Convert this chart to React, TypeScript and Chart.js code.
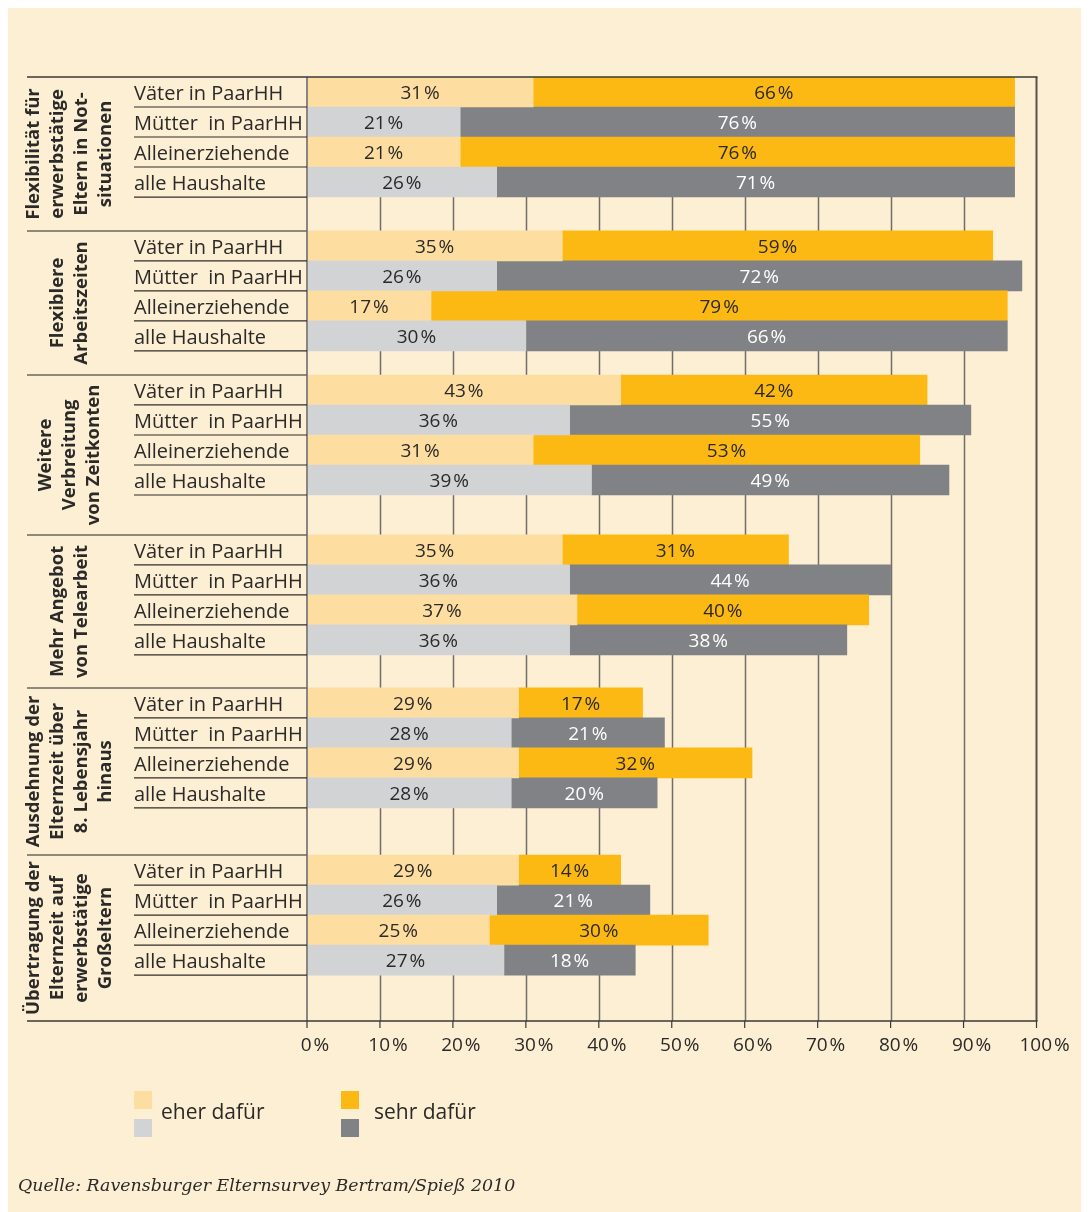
import React, { useEffect, useRef } from "react";
import { Chart, registerables } from "chart.js";

Chart.register(...registerables);

// ---------- data ----------
const GROUP_LABELS: string[][] = [
  ["Flexibilität für", "erwerbstätige", "Eltern in Not-", "situationen"],
  ["Flexiblere", "Arbeitszeiten"],
  ["Weitere", "Verbreitung", "von Zeitkonten"],
  ["Mehr Angebot", "von Telearbeit"],
  ["Ausdehnung der", "Elternzeit über", "8. Lebensjahr", "hinaus"],
  ["Übertragung der", "Elternzeit auf", "erwerbstätige", "Großeltern"],
];

const ROW_LABELS = ["Väter in PaarHH", "Mütter  in PaarHH", "Alleinerziehende", "alle Haushalte"];

// "eher dafür" per group (rows: Väter, Mütter, Alleinerziehende, alle Haushalte)
const EHER_DAFUER: number[][] = [
  [31, 21, 21, 26],
  [35, 26, 17, 30],
  [43, 36, 31, 39],
  [35, 36, 37, 36],
  [29, 28, 29, 28],
  [29, 26, 25, 27],
];

// "sehr dafür" per group
const SEHR_DAFUER: number[][] = [
  [66, 76, 76, 71],
  [59, 72, 79, 66],
  [42, 55, 53, 49],
  [31, 44, 40, 38],
  [17, 21, 32, 20],
  [14, 21, 30, 18],
];

const X_TICKS = [0, 10, 20, 30, 40, 50, 60, 70, 80, 90, 100];
const LEGEND_LABELS = ["eher dafür", "sehr dafür"];
const SOURCE = "Quelle: Ravensburger Elternsurvey Bertram/Spieß 2010";

// ---------- layout / style ----------
const GROUP_SPANS = [5.13, 4.8, 5.33, 5.1, 5.57, 5.53]; // height of each group in row units
const W = 1081;
const H = 1204;
const BG = "#FDEFD3";
const LIGHT_ORANGE = "#FEDEA0";
const ORANGE = "#FDB913";
const LIGHT_GRAY = "#D1D3D4";
const DARK_GRAY = "#808285";
const TEXT = "#2b2a28";
const FONT = '"Open Sans", "Noto Sans", sans-serif';
const pct = (v: number) => `${v}\u200A%`;

const GROUP_STARTS: number[] = [];
{
  let acc = 0;
  for (const s of GROUP_SPANS) {
    GROUP_STARTS.push(acc);
    acc += s;
  }
}
const TOTAL = GROUP_SPANS.reduce((a, b) => a + b, 0);

type Row = { g: number; r: number; pos: number; eher: number; sehr: number };
const ROWS: Row[] = [];
EHER_DAFUER.forEach((grp, g) =>
  grp.forEach((v, r) =>
    ROWS.push({ g, r, pos: GROUP_STARTS[g] + r + 0.5, eher: v, sehr: SEHR_DAFUER[g][r] })
  )
);

const LABEL_X = 126; // row label left edge (canvas coords)
const FRAME_X = 19; // left end of frame lines

const decor = {
  id: "decor",
  beforeDatasetsDraw(chart: any) {
    const { ctx, chartArea, scales } = chart;
    const x = scales.x;
    ctx.save();
    ctx.strokeStyle = "#726d68";
    ctx.lineWidth = 1.5;
    X_TICKS.forEach((t) => {
      if (t === 0 || t === 100) return;
      const px = Math.round(x.getPixelForValue(t)) + 0.5;
      ctx.beginPath();
      ctx.moveTo(px, chartArea.top);
      ctx.lineTo(px, chartArea.bottom);
      ctx.stroke();
    });
    ctx.restore();
  },
  afterDatasetsDraw(chart: any) {
    const { ctx, chartArea, scales } = chart;
    const x = scales.x;
    const y = scales.y;
    const left = x.getPixelForValue(0);
    const right = x.getPixelForValue(100);
    ctx.save();

    // axis line at 0 and right border
    ctx.lineWidth = 2;
    ctx.strokeStyle = "#8a8580";
    ctx.beginPath();
    ctx.moveTo(left, chartArea.top);
    ctx.lineTo(left, chartArea.bottom);
    ctx.stroke();
    ctx.strokeStyle = "#55524f";
    ctx.beginPath();
    ctx.moveTo(right, chartArea.top);
    ctx.lineTo(right, chartArea.bottom);
    ctx.stroke();

    // top and bottom frame lines
    ctx.lineWidth = 1.5;
    ctx.strokeStyle = "#3a3835";
    [chartArea.top, chartArea.bottom].forEach((yy: number) => {
      ctx.beginPath();
      ctx.moveTo(FRAME_X, yy);
      ctx.lineTo(right + 1, yy);
      ctx.stroke();
    });

    // ticks below axis + labels
    ctx.lineWidth = 1.2;
    ctx.fillStyle = TEXT;
    ctx.font = `19px ${FONT}`;
    ctx.textAlign = "center";
    ctx.textBaseline = "middle";
    X_TICKS.forEach((t) => {
      const px = x.getPixelForValue(t);
      ctx.beginPath();
      ctx.moveTo(px, chartArea.bottom);
      ctx.lineTo(px, chartArea.bottom + 7);
      ctx.stroke();
      ctx.fillText(pct(t), px + 8, chartArea.bottom + 25);
    });

    // group separators
    ctx.strokeStyle = "#6a6661";
    ctx.lineWidth = 1.5;
    GROUP_STARTS.forEach((s, g) => {
      if (g === 0) return;
      const py = y.getPixelForValue(s);
      ctx.beginPath();
      ctx.moveTo(FRAME_X, py);
      ctx.lineTo(left, py);
      ctx.stroke();
    });

    // row underlines and labels
    ctx.font = `20px ${FONT}`;
    ctx.textAlign = "left";
    ctx.textBaseline = "alphabetic";
    ROWS.forEach((row) => {
      const bottom = y.getPixelForValue(row.pos + 0.5);
      const mid = y.getPixelForValue(row.pos);
      ctx.strokeStyle = "#2f2d2a";
      ctx.lineWidth = 1.2;
      ctx.beginPath();
      ctx.moveTo(LABEL_X, bottom);
      ctx.lineTo(left, bottom);
      ctx.stroke();
      ctx.fillStyle = TEXT;
      ctx.fillText(ROW_LABELS[row.r], LABEL_X, mid + 8);
    });

    // group labels (rotated)
    ctx.font = `bold 18.5px ${FONT}`;
    ctx.textAlign = "center";
    ctx.textBaseline = "middle";
    ctx.fillStyle = TEXT;
    GROUP_LABELS.forEach((lines, g) => {
      const top = y.getPixelForValue(GROUP_STARTS[g]);
      const bot = y.getPixelForValue(GROUP_STARTS[g] + GROUP_SPANS[g]);
      const cy = (top + bot) / 2;
      const cx = 62;
      ctx.save();
      ctx.translate(cx, cy);
      ctx.rotate(-Math.PI / 2);
      const lh = 24;
      lines.forEach((ln, i) => {
        ctx.fillText(ln, 0, (i - (lines.length - 1) / 2) * lh);
      });
      ctx.restore();
    });

    // value labels
    ctx.font = `19px ${FONT}`;
    ctx.textAlign = "center";
    ctx.textBaseline = "alphabetic";
    chart.data.datasets.forEach((ds: any, di: number) => {
      const meta = chart.getDatasetMeta(di);
      meta.data.forEach((el: any, i: number) => {
        const row = ROWS[i];
        const v = di === 0 ? row.eher : row.sehr;
        const cxv = (el.x + el.base) / 2;
        const isGray = row.r % 2 === 1;
        ctx.fillStyle = di === 1 && isGray ? "#ffffff" : TEXT;
        ctx.fillText(pct(v), cxv, el.y + 7);
      });
    });

    ctx.restore();
  },
};

export default function App() {
  const ref = useRef<HTMLCanvasElement>(null);

  useEffect(() => {
    const canvas = ref.current;
    if (!canvas) return;
    const chart = new Chart(canvas, {
      type: "bar",
      data: {
        datasets: [
          {
            label: LEGEND_LABELS[0],
            data: ROWS.map((r) => ({ x: r.eher, y: r.pos })),
            backgroundColor: ROWS.map((r) => (r.r % 2 === 0 ? LIGHT_ORANGE : LIGHT_GRAY)),
            borderWidth: 0,
            barThickness: 30,
            stack: "s",
          },
          {
            label: LEGEND_LABELS[1],
            data: ROWS.map((r) => ({ x: r.sehr, y: r.pos })),
            backgroundColor: ROWS.map((r) => (r.r % 2 === 0 ? ORANGE : DARK_GRAY)),
            borderWidth: 0,
            barThickness: 30,
            stack: "s",
          },
        ],
      },
      options: {
        indexAxis: "y",
        animation: false,
        responsive: false,
        layout: { padding: { left: 299, top: 69, right: 52.5, bottom: 191 } },
        scales: {
          x: { type: "linear", min: 0, max: 100, stacked: true, display: false, offset: false },
          y: {
            type: "linear",
            min: 0,
            max: TOTAL,
            reverse: true,
            display: false,
            stacked: true,
            offset: false,
            grace: 0,
            grid: { offset: false },
          },
        },
        plugins: { legend: { display: false }, tooltip: { enabled: false } },
      } as any,
      plugins: [decor],
    } as any);
    return () => chart.destroy();
  }, []);

  const sq = (left: number, top: number, color: string) => (
    <div style={{ position: "absolute", left, top, width: 18, height: 18, background: color }} />
  );

  return (
    <div style={{ position: "relative", width: W, height: H, background: BG, fontFamily: FONT, color: TEXT }}>
      <canvas ref={ref} width={W} height={H} style={{ position: "absolute", left: 0, top: 0, width: W, height: H }} />
      {sq(126, 1083, LIGHT_ORANGE)}
      {sq(126, 1111, LIGHT_GRAY)}
      <div style={{ position: "absolute", left: 153, top: 1091, fontSize: 21, lineHeight: "24px", whiteSpace: "nowrap" }}>
        {LEGEND_LABELS[0]}
      </div>
      {sq(333, 1083, ORANGE)}
      {sq(333, 1111, DARK_GRAY)}
      <div style={{ position: "absolute", left: 366, top: 1091, fontSize: 21, lineHeight: "24px", whiteSpace: "nowrap" }}>
        {LEGEND_LABELS[1]}
      </div>
      <div
        style={{
          position: "absolute",
          left: 10,
          top: 1165,
          fontFamily: '"DejaVu Serif", serif',
          fontStyle: "italic",
          fontSize: 17.4,
          lineHeight: "24px",
          whiteSpace: "nowrap",
        }}
      >
        {SOURCE}
      </div>
    </div>
  );
}
